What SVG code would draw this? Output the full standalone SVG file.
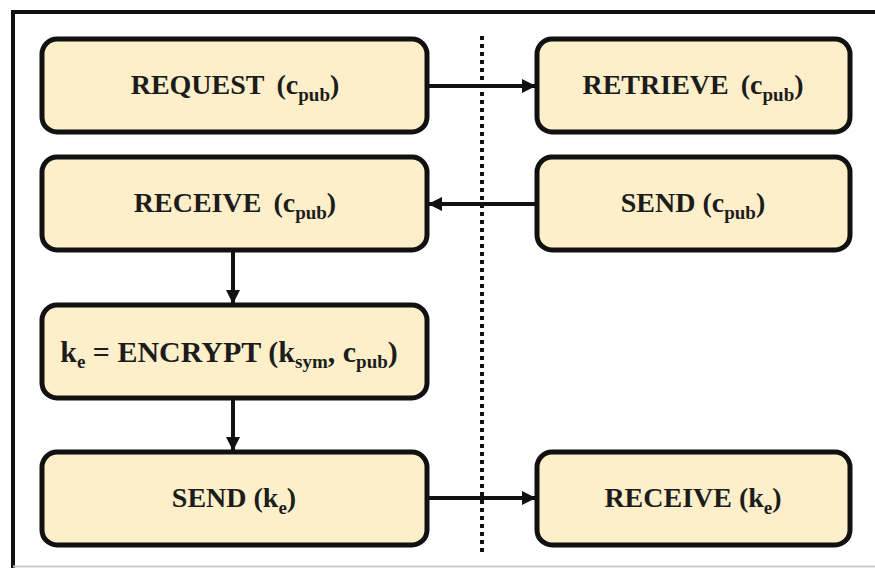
<svg xmlns="http://www.w3.org/2000/svg" width="875" height="568" viewBox="0 0 875 568">
<defs>
<style>
.box{fill:#fdefc9;stroke:#111;stroke-width:5}
.t{font-family:"Liberation Serif","Times New Roman",serif;font-weight:bold;font-size:28px;fill:#1c1c1c;text-anchor:middle}
.s{font-size:19px}
.e{font-size:30px}
.c{stroke:#111;stroke-width:4;fill:none}
</style>
<marker id="ah" markerWidth="14" markerHeight="14" refX="13" refY="7" orient="auto" markerUnits="userSpaceOnUse" viewBox="0 0 14 14">
<path d="M0,0 L14,7 L0,14 z" fill="#111"/>
</marker>
</defs>
<rect width="875" height="568" fill="#fff"/>
<g id="frame">
<path d="M13,568 L13,12 L875,12" fill="none" stroke="#111" stroke-width="4"/>
<line x1="13" y1="566.5" x2="875" y2="566.5" stroke="#ccc" stroke-width="2"/>
</g>
<g id="connectors">
<line x1="482" y1="36" x2="482" y2="553" stroke="#111" stroke-width="4" stroke-dasharray="4,4"/>
<line class="c" x1="427" y1="86" x2="535" y2="86" marker-end="url(#ah)"/>
<line class="c" x1="537" y1="204" x2="429" y2="204" marker-end="url(#ah)"/>
<line class="c" x1="233" y1="250" x2="233" y2="303" marker-end="url(#ah)"/>
<line class="c" x1="233" y1="398" x2="233" y2="450" marker-end="url(#ah)"/>
<line class="c" x1="427" y1="498" x2="535" y2="498" marker-end="url(#ah)"/>
</g>
<g id="request">
<rect class="box" x="42" y="39" width="385" height="93" rx="15"/>
<text class="t" x="235" y="94">REQUEST<tspan dx="12">(c</tspan><tspan class="s" dy="7">pub</tspan><tspan dy="-7">)</tspan></text>
</g>
<g id="retrieve">
<rect class="box" x="537" y="39" width="313" height="93" rx="15"/>
<text class="t" x="693" y="94">RETRIEVE<tspan dx="12">(c</tspan><tspan class="s" dy="7">pub</tspan><tspan dy="-7">)</tspan></text>
</g>
<g id="receive-cpub">
<rect class="box" x="42" y="157" width="385" height="93" rx="15"/>
<text class="t" x="235" y="212">RECEIVE<tspan dx="12">(c</tspan><tspan class="s" dy="7">pub</tspan><tspan dy="-7">)</tspan></text>
</g>
<g id="send-cpub">
<rect class="box" x="537" y="157" width="313" height="93" rx="15"/>
<text class="t" x="693" y="212">SEND (c<tspan class="s" dy="7">pub</tspan><tspan dy="-7">)</tspan></text>
</g>
<g id="encrypt">
<rect class="box" x="42" y="305" width="385" height="93" rx="15"/>
<text class="t e" x="229" y="362">k<tspan class="s" dy="6">e</tspan><tspan dy="-6"> = ENCRYPT (k</tspan><tspan class="s" dy="6">sym</tspan><tspan dy="-6">, c</tspan><tspan class="s" dy="6">pub</tspan><tspan dy="-6">)</tspan></text>
</g>
<g id="send-ke">
<rect class="box" x="42" y="452" width="385" height="93" rx="15"/>
<text class="t" x="234" y="507">SEND (k<tspan class="s" dy="7">e</tspan><tspan dy="-7">)</tspan></text>
</g>
<g id="receive-ke">
<rect class="box" x="537" y="452" width="313" height="93" rx="15"/>
<text class="t" x="693" y="507">RECEIVE (k<tspan class="s" dy="7">e</tspan><tspan dy="-7">)</tspan></text>
</g>
</svg>
